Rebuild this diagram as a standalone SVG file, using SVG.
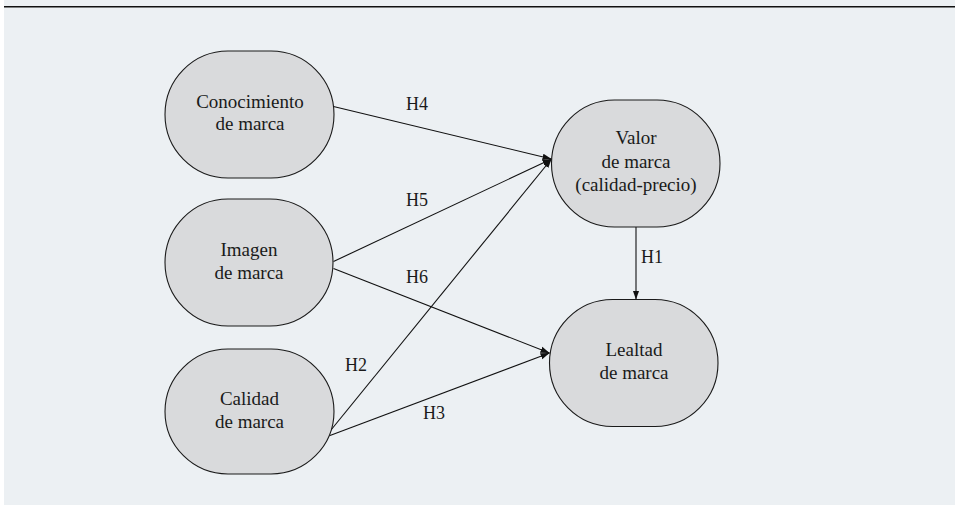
<svg xmlns="http://www.w3.org/2000/svg" width="955" height="505" viewBox="0 0 955 505">
  <style>
    .node { fill: #D9DADC; stroke: #1a1a1a; stroke-width: 1.1; }
    text { font-family: 'Liberation Serif', 'Times New Roman', serif; fill: #1a1a1a; text-anchor: middle; }
    .label { font-size: 19px; }
    .hyp { font-size: 18px; }
    .edge { stroke: #111; stroke-width: 1.1; fill: none; marker-end: url(#arrow); }
  </style>
  <defs>
    <marker id="arrow" markerUnits="userSpaceOnUse" markerWidth="10" markerHeight="8" refX="9" refY="4" orient="auto">
      <path d="M0,0.8 L9,4 L0,7.2 Z" fill="#111"/>
    </marker>
  </defs>

  <!-- panel background and top rule -->
  <rect x="0" y="0" width="955" height="505" fill="#ffffff"/>
  <rect x="4" y="0" width="951" height="505" fill="#ECF0F3"/>
  <rect x="4" y="6" width="951" height="1.5" fill="#111"/>

  <!-- hypothesis paths -->
  <g id="connectors">
    <line class="edge" x1="333.5" y1="106.5" x2="551.5" y2="159"/>
    <line class="edge" x1="333.5" y1="261.5" x2="551.5" y2="159"/>
    <line class="edge" x1="331" y1="430" x2="551.5" y2="159"/>
    <line class="edge" x1="333.5" y1="268.5" x2="549.5" y2="353"/>
    <line class="edge" x1="330" y1="435.5" x2="549.5" y2="353"/>
    <line class="edge" x1="636" y1="227" x2="636" y2="299.5"/>
    <text class="hyp" x="417" y="110">H4</text>
    <text class="hyp" x="417" y="206">H5</text>
    <text class="hyp" x="417" y="283">H6</text>
    <text class="hyp" x="356" y="371">H2</text>
    <text class="hyp" x="434" y="419">H3</text>
    <text class="hyp" x="652" y="263">H1</text>
  </g>

  <g id="conocimiento">
    <rect class="node" x="165" y="51" width="169" height="127" rx="63" ry="63.5"/>
    <text class="label" x="250" y="108">Conocimiento</text>
    <text class="label" x="250" y="130">de marca</text>
  </g>

  <g id="imagen">
    <rect class="node" x="165" y="199" width="168" height="127" rx="63" ry="63.5"/>
    <text class="label" x="249" y="256">Imagen</text>
    <text class="label" x="249" y="279">de marca</text>
  </g>

  <g id="calidad">
    <rect class="node" x="165" y="349" width="169" height="125" rx="63" ry="62.5"/>
    <text class="label" x="249.5" y="405">Calidad</text>
    <text class="label" x="249.5" y="428">de marca</text>
  </g>

  <g id="valor">
    <rect class="node" x="551.5" y="100" width="168.5" height="127" rx="63" ry="63.5"/>
    <text class="label" x="636" y="144">Valor</text>
    <text class="label" x="636" y="168">de marca</text>
    <text class="label" x="636" y="191">(calidad-precio)</text>
  </g>

  <g id="lealtad">
    <rect class="node" x="549.5" y="299.5" width="168.5" height="127" rx="63" ry="63.5"/>
    <text class="label" x="634" y="356">Lealtad</text>
    <text class="label" x="634" y="379">de marca</text>
  </g>
</svg>
